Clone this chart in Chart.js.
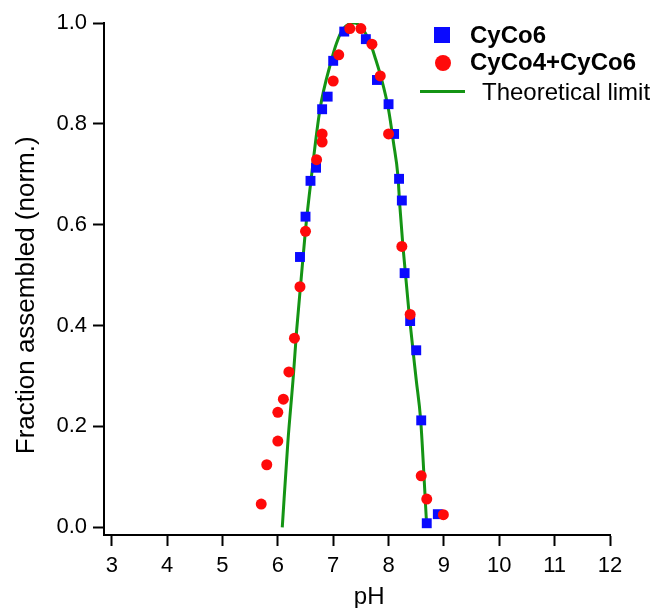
<!DOCTYPE html>
<html>
<head>
<meta charset="utf-8">
<script src="https://cdn.jsdelivr.net/npm/chart.js@4.4.0/dist/chart.umd.min.js"></script>
<style>
  body { margin: 0; background: #fff; }
  #wrap { position: relative; width: 655px; height: 608px; overflow: hidden; }
  .lg { position: absolute; font-family: "Liberation Sans", Arial, sans-serif; font-size: 24px; line-height: 24px; color: #000; white-space: nowrap; }
  .bold { font-weight: bold; }
  .mark { position: absolute; }
</style>
</head>
<body>
<div id="wrap">
  <canvas id="fracChart" width="655" height="608"></canvas>
  <div class="mark" style="left:434px;top:27px;width:16px;height:16px;background:#0a0aff;"></div>
  <div class="lg bold" style="left:470px;top:23px;">CyCo6</div>
  <div class="mark" style="left:435px;top:55px;width:16px;height:16px;border-radius:50%;background:#ff0a0a;"></div>
  <div class="lg bold" style="left:470px;top:50px;">CyCo4+CyCo6</div>
  <div class="mark" style="left:420px;top:90px;width:45px;height:3px;background:#149414;"></div>
  <div class="lg" style="left:482px;top:80px;">Theoretical limit</div>
</div>
<script>
// CyCo6 (blue squares)
const bluePH = [6.40, 6.50, 6.59, 6.69, 6.80, 6.90, 7.00, 7.20, 7.59, 7.79, 8.00, 8.10, 8.19, 8.24, 8.29, 8.39, 8.50, 8.59, 8.69, 8.89];
const blueFrac = [0.536, 0.616, 0.687, 0.713, 0.829, 0.854, 0.925, 0.983, 0.968, 0.887, 0.839, 0.780, 0.691, 0.648, 0.504, 0.409, 0.351, 0.212, 0.008, 0.026];

// CyCo4+CyCo6 (red circles)
const redPH = [5.70, 5.80, 6.00, 6.00, 6.10, 6.20, 6.30, 6.40, 6.50, 6.70, 6.80, 6.80, 7.00, 7.10, 7.30, 7.50, 7.70, 7.85, 8.00, 8.24, 8.39, 8.59, 8.69, 8.99];
const redFrac = [0.046, 0.124, 0.171, 0.228, 0.254, 0.308, 0.375, 0.477, 0.587, 0.729, 0.764, 0.780, 0.885, 0.937, 0.989, 0.989, 0.958, 0.895, 0.780, 0.557, 0.422, 0.102, 0.056, 0.025];

// theoretical limit curve
const limitPH = [6.08, 6.18, 6.28, 6.34, 6.42, 6.50, 6.60, 6.76, 6.97, 7.06, 7.17, 7.38, 7.54, 7.67, 7.77, 7.86, 8.00, 8.09, 8.17, 8.20, 8.26, 8.37, 8.50, 8.58, 8.66, 8.69];
const limitFrac = [0.0, 0.167, 0.30, 0.391, 0.491, 0.59, 0.689, 0.828, 0.927, 0.96, 0.987, 1.0, 0.987, 0.96, 0.927, 0.894, 0.828, 0.762, 0.696, 0.643, 0.557, 0.425, 0.292, 0.213, 0.061, 0.0];

const xTicks = [3, 4, 5, 6, 7, 8, 9, 10, 11, 12];
const yTicks = [0.0, 0.2, 0.4, 0.6, 0.8, 1.0];

const toPts = (xs, ys) => xs.map((x, i) => ({ x: x, y: ys[i] }));

const fontFamily = '"Liberation Sans", Arial, sans-serif';

// axis titles drawn by hand so they sit where the original has them
const axisTitles = {
  id: "axisTitles",
  afterDraw(chart) {
    const { ctx, scales } = chart;
    ctx.save();
    ctx.fillStyle = "#000";
    ctx.textAlign = "center";

    ctx.font = `24px ${fontFamily}`;
    ctx.textBaseline = "alphabetic";
    ctx.fillText("pH", scales.x.getPixelForValue(7.65), 604);

    ctx.font = `26px ${fontFamily}`;
    ctx.textBaseline = "middle";
    ctx.translate(27, scales.y.getPixelForValue(0.46));
    ctx.rotate(-Math.PI / 2);
    ctx.fillText("Fraction assembled (norm.)", 0, 0);
    ctx.restore();
  },
};

new Chart(document.getElementById("fracChart"), {
  type: "scatter",
  data: {
    datasets: [
      {
        label: "CyCo4+CyCo6",
        data: toPts(redPH, redFrac),
        pointStyle: "circle",
        pointRadius: 5.5,
        backgroundColor: "#ff0a0a",
        borderColor: "#ff0a0a",
        borderWidth: 0,
        order: 1,
      },
      {
        label: "CyCo6",
        data: toPts(bluePH, blueFrac),
        pointStyle: "rect",
        pointRadius: 7,
        backgroundColor: "#0a0aff",
        borderColor: "#0a0aff",
        borderWidth: 0,
        order: 2,
      },
      {
        label: "Theoretical limit",
        data: toPts(limitPH, limitFrac),
        showLine: true,
        borderColor: "#149414",
        borderWidth: 3,
        pointRadius: 0,
        cubicInterpolationMode: "monotone",
        order: 3,
      },
    ],
  },
  options: {
    responsive: false,
    animation: false,
    layout: {
      padding: { top: 23, right: 45, bottom: 0, left: 0 },
    },
    scales: {
      x: {
        type: "linear",
        min: 2.86,
        max: 12,
        afterFit: (scale) => { scale.height = 73; },
        afterBuildTicks: (scale) => { scale.ticks = xTicks.map((v) => ({ value: v })); },
        ticks: {
          color: "#000",
          padding: 7,
          font: { family: fontFamily, size: 22 },
          callback: (v) => String(v),
        },
        grid: {
          drawOnChartArea: false,
          tickLength: 11,
          tickWidth: 2,
          tickColor: "#000",
        },
        border: { color: "#000", width: 2 },
      },
      y: {
        type: "linear",
        min: -0.0153,
        max: 1.0,
        afterFit: (scale) => { scale.width = 104; },
        afterBuildTicks: (scale) => { scale.ticks = yTicks.map((v) => ({ value: v })); },
        ticks: {
          color: "#000",
          padding: 6,
          font: { family: fontFamily, size: 22 },
          callback: (v) => v.toFixed(1),
        },
        grid: {
          drawOnChartArea: false,
          tickLength: 11,
          tickWidth: 2,
          tickColor: "#000",
        },
        border: { color: "#000", width: 2 },
      },
    },
    plugins: {
      legend: { display: false },
      tooltip: { enabled: false },
    },
  },
  plugins: [axisTitles],
});
</script>
</body>
</html>
